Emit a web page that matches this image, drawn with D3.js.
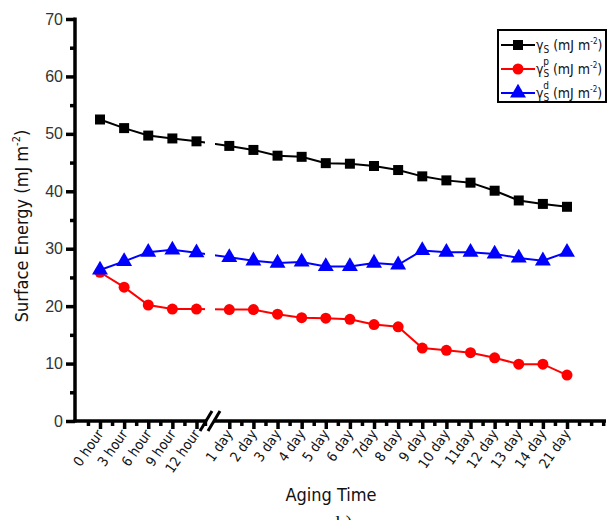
<!DOCTYPE html>
<html>
<head>
<meta charset="utf-8">
<script src="https://cdn.jsdelivr.net/npm/d3@7"></script>
<style>
  body { margin: 0; background: #fff; }
  svg { display: block; }
</style>
</head>
<body>
<svg id="chart" width="608" height="520"></svg>
<script>
// aging time labels
const categories = ["0 hour", "3 hour", "6 hour", "9 hour", "12 hour",
  "1 day", "2 day", "3 day", "4 day", "5 day", "6 day", "7day", "8 day", "9 day",
  "10 day", "11day", "12 day", "13 day", "14 day", "21 day"];

// surface energy (mJ m-2)
const gammaTotal = [52.5, 51.0, 49.7, 49.2, 48.7, 47.9, 47.2, 46.2, 46.0, 44.9,
  44.8, 44.4, 43.7, 42.6, 41.9, 41.5, 40.1, 38.4, 37.8, 37.3];
const gammaPolar = [25.9, 23.3, 20.2, 19.5, 19.5, 19.4, 19.4, 18.6, 18.0, 17.9,
  17.7, 16.8, 16.4, 12.7, 12.3, 11.9, 11.0, 9.9, 9.9, 8.0];
const gammaDisp = [26.3, 27.8, 29.4, 29.8, 29.3, 28.5, 27.9, 27.5, 27.7, 26.9,
  26.9, 27.5, 27.2, 29.7, 29.4, 29.4, 29.1, 28.4, 27.9, 29.4];

const yTicks = [0, 10, 20, 30, 40, 50, 60, 70];

const svg = d3.select("#chart");
const axisY = 421, left = 75;
const GAP = 0.36; // extra room at the axis break
const pos = i => i + (i >= 5 ? GAP : 0);

const x = d3.scaleLinear().domain([0, 19 + GAP]).range([100, 567]);
const y = d3.scaleLinear().domain([0, 70]).range([axisY, 19]);

const condensed = "'DejaVu Sans Condensed', 'DejaVu Sans', sans-serif";
const AW = 3.5; // axis stroke

// ---- y axis
const yAxis = svg.append("g").attr("transform", `translate(${left},0)`)
  .call(d3.axisLeft(y).tickValues(yTicks).tickSize(9).tickPadding(3));
yAxis.select(".domain").remove();
yAxis.selectAll("line").attr("stroke", "#000").attr("stroke-width", AW);
yAxis.selectAll("text").attr("font-family", "'Liberation Sans', Arial, sans-serif")
  .attr("font-size", 16).attr("fill", "#333");
const yMinor = svg.append("g").attr("transform", `translate(${left},0)`)
  .call(d3.axisLeft(y).tickValues(d3.range(5, 70, 10)).tickSize(5).tickFormat(""));
yMinor.select(".domain").remove();
yMinor.selectAll("line").attr("stroke", "#000").attr("stroke-width", AW);
svg.append("line").attr("x1", left).attr("x2", left)
  .attr("y1", y(70) - 1.5).attr("y2", axisY + 1.5)
  .attr("stroke", "#000").attr("stroke-width", AW);

// ---- x axis (broken)
const majorPos = categories.map((d, i) => pos(i));
const xAxis = svg.append("g").attr("transform", `translate(0,${axisY})`)
  .call(d3.axisBottom(x).tickValues(majorPos).tickSize(8).tickFormat(""));
xAxis.select(".domain").remove();
xAxis.selectAll("line").attr("stroke", "#000").attr("stroke-width", AW);

let minorPos = [-0.5, 19.5 + GAP, 20 + GAP, 20.5 + GAP];
for (let i = 0; i < categories.length - 1; i++) {
  if (i === 4) continue;
  minorPos.push((pos(i) + pos(i + 1)) / 2);
}
minorPos.push(4.35);
const xMinor = svg.append("g").attr("transform", `translate(0,${axisY})`)
  .call(d3.axisBottom(x).tickValues(minorPos).tickSize(5).tickFormat(""));
xMinor.select(".domain").remove();
xMinor.selectAll("line").attr("stroke", "#000").attr("stroke-width", AW);

const b1 = 206, b2 = 214;
svg.append("line").attr("x1", left - 1.5).attr("x2", b1).attr("y1", axisY).attr("y2", axisY)
  .attr("stroke", "#000").attr("stroke-width", AW);
svg.append("line").attr("x1", b2).attr("x2", 606).attr("y1", axisY).attr("y2", axisY)
  .attr("stroke", "#000").attr("stroke-width", AW);
[b1, b2].forEach(c => {
  svg.append("line").attr("x1", c - 6).attr("y1", axisY + 10).attr("x2", c + 6).attr("y2", axisY - 10)
    .attr("stroke", "#000").attr("stroke-width", 3);
});

// rotated category labels
svg.append("g").selectAll("text").data(categories).enter().append("text")
  .attr("transform", (d, i) => `translate(${x(pos(i)) + 4},${axisY + 13}) rotate(-55)`)
  .attr("text-anchor", "end")
  .attr("font-family", condensed).attr("font-size", 14).attr("fill", "#111")
  .text(d => d);

// ---- series
const series = [
  { values: gammaTotal, color: "#000", shape: d3.symbolSquare, size: 100, sup: "" },
  { values: gammaPolar, color: "#f00", shape: d3.symbolCircle, size: 95, sup: "p" },
  { values: gammaDisp, color: "#00f", shape: d3.symbolTriangle, size: 110, sup: "d" }
];
const line = d3.line().x((d, i) => x(pos(i))).y(d => y(d));

series.forEach(s => {
  svg.append("path").attr("d", line(s.values))
    .attr("fill", "none").attr("stroke", s.color).attr("stroke-width", 2);
});
// gap in the lines at the break
svg.append("rect").attr("x", 205).attr("y", 100).attr("width", 10).attr("height", 300)
  .attr("fill", "#fff");
series.forEach(s => {
  svg.append("g").selectAll("path").data(s.values).enter().append("path")
    .attr("d", d3.symbol().type(s.shape).size(s.size))
    .attr("transform", (d, i) => `translate(${x(pos(i))},${y(d)})`)
    .attr("fill", s.color);
});

// ---- legend
const lg = svg.append("g");
lg.append("rect").attr("x", 498).attr("y", 30).attr("width", 108).attr("height", 72)
  .attr("fill", "#fff").attr("stroke", "#000").attr("stroke-width", 2);
series.forEach((s, k) => {
  const ly = 45 + k * 24;
  lg.append("line").attr("x1", 501).attr("x2", 535).attr("y1", ly).attr("y2", ly)
    .attr("stroke", s.color).attr("stroke-width", 2);
  lg.append("path").attr("d", d3.symbol().type(s.shape).size(s.size)())
    .attr("transform", `translate(518,${ly})`).attr("fill", s.color);
  const t = lg.append("text").attr("x", 536).attr("y", ly + 5)
    .attr("font-family", condensed).attr("font-size", 14).attr("fill", "#111");
  t.append("tspan").text("γ");
  t.append("tspan").attr("font-size", 10).attr("dy", 3).text("S");
  if (s.sup) {
    t.append("tspan").attr("font-size", 10).attr("dx", -6).attr("dy", -12).text(s.sup);
    t.append("tspan").attr("dy", 9).text(" (mJ m");
  } else {
    t.append("tspan").attr("dy", -3).text(" (mJ m");
  }
  t.append("tspan").attr("font-size", 8).attr("dy", -6).text("-2");
  t.append("tspan").attr("dy", 6).text(")");
});

// ---- axis titles
const yt = svg.append("text")
  .attr("transform", "translate(28,226) rotate(-90)")
  .attr("text-anchor", "middle")
  .attr("font-family", condensed).attr("font-size", 18).attr("fill", "#111");
yt.append("tspan").text("Surface Energy (mJ m");
yt.append("tspan").attr("font-size", 11).attr("dy", -8).text("-2");
yt.append("tspan").attr("dy", 8).text(")");

svg.append("text").attr("x", 331).attr("y", 501).attr("text-anchor", "middle")
  .attr("font-family", condensed).attr("font-size", 18).attr("fill", "#111")
  .text("Aging Time");

svg.append("text").attr("x", 344).attr("y", 530).attr("text-anchor", "middle")
  .attr("font-family", "'Liberation Serif', serif").attr("font-size", 20).attr("fill", "#111")
  .text("b)");
</script>
</body>
</html>
